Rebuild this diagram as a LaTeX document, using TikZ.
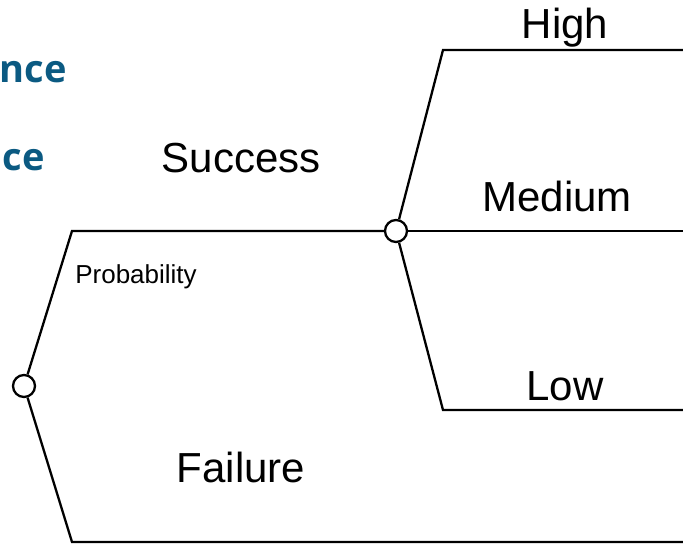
\documentclass[tikz,border=0pt]{standalone}
\usepackage{fontspec}
\setmainfont{Liberation Sans}
\newfontfamily\headfont{Open Sans}
\definecolor{headblue}{HTML}{0B5A82}
\begin{document}
\begin{tikzpicture}[x=1pt,y=-1pt,
  branch/.style={line width=2.3pt, line join=miter},
  chance/.style={circle, draw, line width=2.3pt, fill=white, minimum size=22pt, inner sep=0pt},
  big/.style={font=\fontsize{42}{44}\selectfont, anchor=base, inner sep=0pt},
  small/.style={font=\fontsize{26}{28}\selectfont, anchor=base, inner sep=0pt},
  head/.style={font=\headfont\bfseries\fontsize{38}{40}\selectfont, text=headblue, anchor=base east, inner sep=0pt}]
\useasboundingbox (0,0) rectangle (683,544);
\clip (0,0) rectangle (683,544);

% partly hidden headings at the left edge
\node[head] (h1) at (67,82) {nce};
\node[head] (h2) at (45,170) {nce};

% end points of the branches
\coordinate (succ) at (72,231);
\coordinate (fail) at (72,542);
\coordinate (hi) at (443,50);
\coordinate (lo) at (443,410);
\coordinate (hiend) at (684,50);
\coordinate (midend) at (684,231);
\coordinate (loend) at (684,410);
\coordinate (failend) at (684,542);

% chance nodes
\node[chance] (root) at (24,386) {};
\node[chance] (mid) at (396,231) {};

% branches
\draw[branch] (root) -- (succ) -- (mid);
\draw[branch] (root) -- (fail) -- (failend);
\draw[branch] (mid) -- (hi) -- (hiend);
\draw[branch] (mid) -- (midend);
\draw[branch] (mid) -- (lo) -- (loend);

% labels
\node[big] (tHigh) at (565,38) {High};
\node[big] (tSucc) at (241,172) {Success};
\node[big] (tMed) at (557,211) {Medium};
\node[big] (tLow) at (565,400) {Low};
\node[big] (tFail) at (241,482) {Failure};
\node[small] (tProb) at (136,283) {Probability};
\end{tikzpicture}
\end{document}
